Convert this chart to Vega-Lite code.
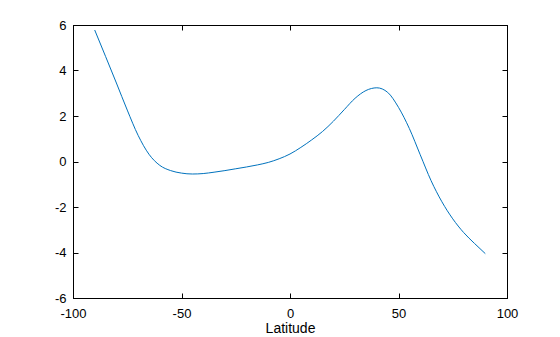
{
  "$schema": "https://vega.github.io/schema/vega-lite/v6.json",
  "width": 434,
  "height": 273,
  "autosize": {"type": "none"},
  "padding": {"left": 73, "top": 25, "right": 53, "bottom": 39},
  "background": "white",
  "config": {
    "view": {"stroke": "black", "strokeWidth": 1},
    "font": "Liberation Sans",
    "axis": {
      "grid": false,
      "domainColor": "black",
      "domainWidth": 1,
      "tickColor": "black",
      "tickWidth": 1,
      "tickSize": -5,
      "labelColor": "black",
      "labelFontSize": 13,
      "labelFont": "Liberation Sans",
      "labelExpr": "'' + datum.value",
      "titleFont": "Liberation Sans",
      "titleFontWeight": "normal",
      "titleFontSize": 14,
      "titleColor": "black"
    }
  },
  "data": {
    "values": [
      {"lat": -90, "v": 5.78},
      {"lat": -85, "v": 4.62},
      {"lat": -80, "v": 3.45},
      {"lat": -75, "v": 2.26},
      {"lat": -70, "v": 1.15},
      {"lat": -65, "v": 0.32},
      {"lat": -60, "v": -0.17},
      {"lat": -55, "v": -0.40},
      {"lat": -50, "v": -0.51},
      {"lat": -45, "v": -0.55},
      {"lat": -40, "v": -0.53},
      {"lat": -35, "v": -0.47},
      {"lat": -30, "v": -0.40},
      {"lat": -25, "v": -0.32},
      {"lat": -20, "v": -0.24},
      {"lat": -15, "v": -0.15},
      {"lat": -10, "v": -0.04},
      {"lat": -5, "v": 0.12},
      {"lat": 0, "v": 0.33},
      {"lat": 5, "v": 0.62},
      {"lat": 10, "v": 0.95},
      {"lat": 15, "v": 1.32},
      {"lat": 20, "v": 1.77},
      {"lat": 25, "v": 2.28},
      {"lat": 30, "v": 2.78},
      {"lat": 35, "v": 3.12},
      {"lat": 40, "v": 3.24},
      {"lat": 45, "v": 3.04},
      {"lat": 50, "v": 2.38},
      {"lat": 55, "v": 1.45},
      {"lat": 60, "v": 0.30},
      {"lat": 65, "v": -0.84},
      {"lat": 70, "v": -1.77},
      {"lat": 75, "v": -2.52},
      {"lat": 80, "v": -3.12},
      {"lat": 85, "v": -3.60},
      {"lat": 90, "v": -4.05}
    ]
  },
  "layer": [
    {
      "mark": {"type": "line", "color": "#0072BD", "strokeWidth": 1, "interpolate": "monotone"},
      "encoding": {
        "x": {"field": "lat", "type": "quantitative", "scale": {"domain": [-100, 100], "nice": false, "zero": false},
              "axis": {"orient": "bottom", "title": "Latitude", "values": [-100, -50, 0, 50, 100], "labelPadding": 14, "titleY": 34.5, "titleBaseline": "alphabetic", "labelFlush": false}},
        "y": {"field": "v", "type": "quantitative", "scale": {"domain": [-6, 6], "nice": false, "zero": false},
              "axis": {"orient": "left", "title": null, "values": [-6, -4, -2, 0, 2, 4, 6], "labelPadding": 12, "labelFlush": false}}
      }
    },
    {
      "mark": {"type": "line", "opacity": 0},
      "encoding": {
        "x": {"field": "lat", "type": "quantitative", "scale": {"domain": [-100, 100], "nice": false, "zero": false},
              "axis": {"orient": "top", "title": null, "labels": false, "values": [-100, -50, 0, 50, 100]}},
        "y": {"field": "v", "type": "quantitative", "scale": {"domain": [-6, 6], "nice": false, "zero": false},
              "axis": {"orient": "right", "title": null, "labels": false, "values": [-6, -4, -2, 0, 2, 4, 6]}}
      }
    }
  ],
  "resolve": {"axis": {"x": "independent", "y": "independent"}}
}
